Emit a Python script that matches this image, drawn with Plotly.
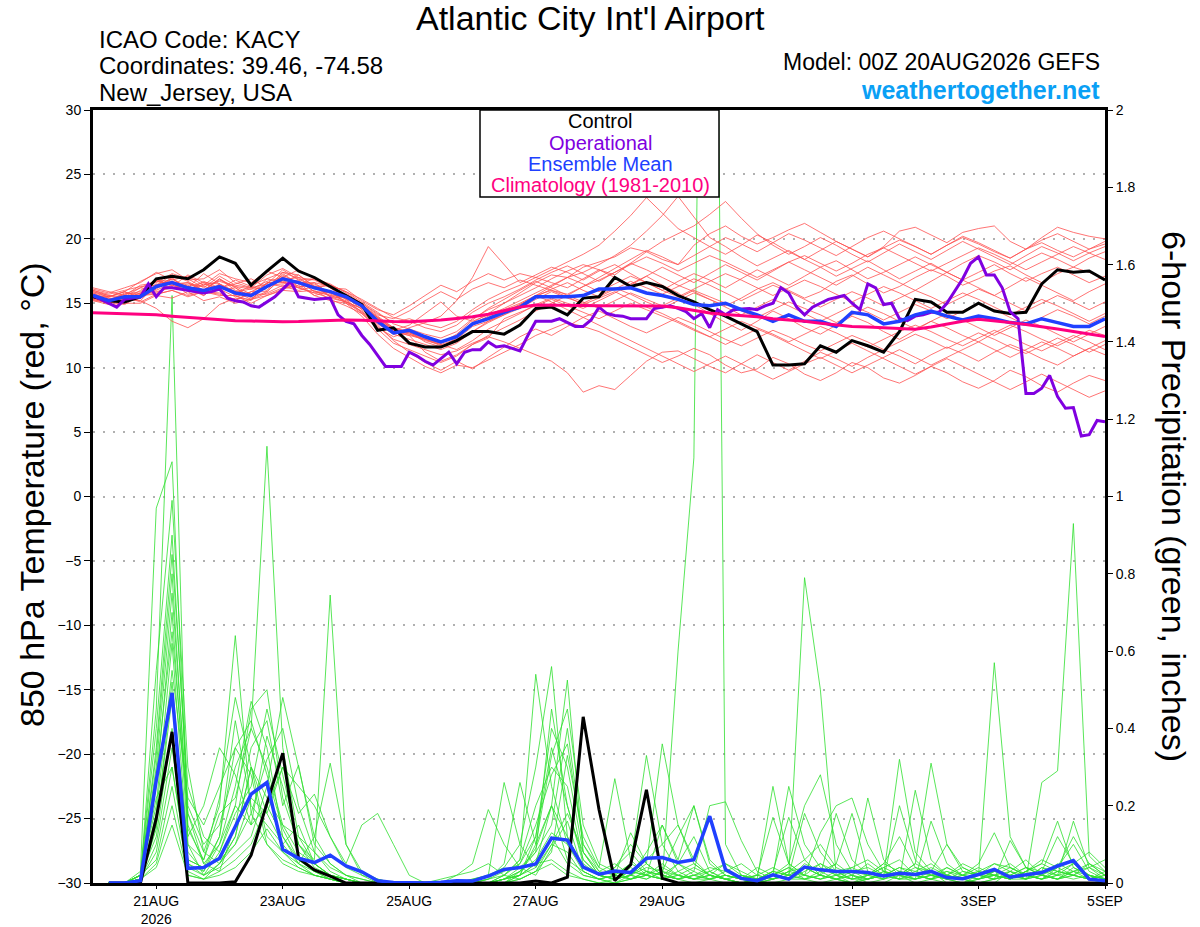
import pandas as pd
import plotly.graph_objects as go

# valid times of the 00Z 20AUG2026 GEFS run
times_6h = pd.date_range("2026-08-20 00:00", "2026-09-05 00:00", freq="6h")
times_3h = pd.date_range("2026-08-20 00:00", "2026-09-05 00:00", freq="3h")
precip_times = times_6h[1:]

# 850 hPa temperature (C), 6-hourly
control_temp = [
    15.5, 15.2, 15.1, 15.5, 16.9, 17.1, 16.9, 17.6, 18.6, 18.1, 16.4, 17.5, 18.5,
    17.5, 17.0, 16.3, 15.6, 14.9, 12.9, 13.1, 11.9, 11.6, 11.6, 12.1, 12.8, 12.8,
    12.6, 13.3, 14.6, 14.7, 14.1, 15.4, 15.5, 17.0, 16.3, 16.6, 16.3, 15.6, 15.1,
    14.5, 14.0, 13.4, 12.8, 10.2, 10.2, 10.3, 11.7, 11.2, 12.1, 11.7, 11.2, 12.8,
    15.3, 15.1, 14.3, 14.3, 15.0, 14.4, 14.2, 14.3, 16.5, 17.6, 17.4, 17.5, 16.8,
]
ens_mean_temp = [
    15.6, 15.2, 15.5, 15.5, 16.3, 16.6, 16.2, 16.0, 16.3, 15.8, 15.6, 16.3, 16.9,
    16.6, 16.2, 15.9, 15.5, 14.8, 13.6, 12.7, 12.9, 12.4, 12.0, 12.4, 13.4, 13.8,
    14.3, 14.7, 15.5, 15.5, 15.5, 15.6, 16.1, 16.1, 16.2, 15.8, 15.6, 15.3, 14.9,
    14.8, 15.0, 14.5, 14.1, 13.6, 14.1, 13.6, 13.6, 13.2, 14.3, 14.1, 13.4, 13.6,
    14.1, 14.4, 14.0, 13.7, 14.0, 13.8, 13.5, 13.4, 13.8, 13.5, 13.2, 13.2, 13.8,
]
climo_temp = [
    14.27, 14.24, 14.2, 14.15, 14.1, 14.0, 13.9, 13.8, 13.7, 13.65, 13.62, 13.58, 13.57,
    13.58, 13.62, 13.67, 13.7, 13.68, 13.62, 13.58, 13.57, 13.62, 13.7, 13.82, 13.95, 14.15,
    14.4, 14.7, 14.86, 14.86, 14.84, 14.82, 14.8, 14.8, 14.8, 14.8, 14.79, 14.65, 14.45,
    14.25, 14.12, 14.05, 13.95, 13.8, 13.72, 13.6, 13.45, 13.3, 13.2, 13.15, 13.1, 13.02,
    12.98, 13.15, 13.4, 13.6, 13.75, 13.65, 13.5, 13.35, 13.2, 13.0, 12.8, 12.6, 12.41,
]
# operational run is 3-hourly
oper_temp = [
    15.6, 15.3, 15.0, 14.7, 15.3, 15.4, 15.5, 16.5, 15.5, 16.2, 16.2, 16.1, 16.0,
    15.9, 15.8, 15.9, 16.1, 15.4, 15.2, 15.1, 14.8, 14.7, 15.1, 15.5, 16.1, 16.7,
    15.5, 15.4, 15.3, 15.35, 15.4, 14.1, 13.6, 13.4, 12.5, 11.8, 10.9, 10.1, 10.1,
    10.1, 11.2, 10.9, 10.5, 10.2, 10.7, 11.2, 10.3, 11.2, 11.4, 11.4, 12.0, 11.6,
    11.7, 11.5, 11.3, 12.5, 13.6, 13.6, 13.6, 13.8, 13.5, 13.2, 13.2, 13.7, 14.7,
    14.2, 14.05, 14.0, 13.8, 13.8, 13.8, 14.6, 14.7, 14.8, 14.6, 14.35, 13.8, 14.2,
    13.1, 14.5, 14.1, 14.5, 14.55, 14.6, 14.5, 14.8, 15.0, 16.2, 15.8, 14.7, 14.1,
    14.7, 15.0, 15.3, 15.45, 15.6, 15.0, 14.5, 16.5, 16.2, 14.9, 15.0, 13.8, 13.65,
    14.0, 14.1, 14.3, 14.3, 15.0, 15.9, 16.9, 18.1, 18.6, 17.2, 17.2, 16.2, 14.35,
    13.8, 8.0, 8.0, 8.4, 9.4, 7.75, 6.85, 6.9, 4.7, 4.8, 5.9, 5.8,
]

# 6-hour precipitation (inches), starting at 06Z 20AUG
control_precip = [
    0, 0, 0, 0.167, 0.391, 0, 0, 0,
    0.003, 0.072, 0.206, 0.336, 0.064, 0.034, 0.018, 0,
    0, 0, 0, 0, 0, 0, 0, 0,
    0, 0, 0, 0.005, 0, 0.015, 0.43, 0.19,
    0.006, 0.047, 0.241, 0.012, 0, 0, 0, 0,
    0, 0, 0, 0, 0, 0, 0, 0,
    0, 0, 0, 0, 0, 0, 0, 0,
    0, 0, 0, 0, 0, 0, 0, 0,
]
ens_mean_precip = [
    0, 0, 0.006, 0.266, 0.492, 0.038, 0.04, 0.064,
    0.146, 0.23, 0.26, 0.087, 0.064, 0.053, 0.072, 0.044,
    0.029, 0.006, 0.001, 0, 0, 0.002, 0.006, 0.005,
    0.018, 0.035, 0.04, 0.049, 0.116, 0.111, 0.041, 0.023,
    0.031, 0.027, 0.064, 0.066, 0.053, 0.06, 0.173, 0.035,
    0.012, 0.006, 0.021, 0.01, 0.041, 0.034, 0.03, 0.03,
    0.027, 0.018, 0.025, 0.022, 0.03, 0.014, 0.011, 0.022,
    0.035, 0.015, 0.021, 0.027, 0.044, 0.058, 0.01, 0.006,
]

# ensemble members, temperature
t_m01 = [15.9, 15.5, 15.9, 16.7, 17.3, 17.6, 16.8, 16.9, 17.6, 16.6, 16.2, 17.2, 17.7,
         17.0, 16.8, 16.2, 15.3, 14.3, 13.1, 12.4, 12.8, 12.0, 11.6, 12.3, 13.5, 14.2,
         15.0, 15.8, 16.6, 17.2, 17.0, 17.8, 18.2, 18.6, 19.3, 19.0, 18.4, 18.0, 19.5,
         20.4, 21.0, 20.2, 19.6, 20.1, 20.7, 21.2, 20.5, 19.8, 19.2, 18.6, 19.4, 20.6,
         20.9, 20.3, 19.7, 20.5, 20.8, 21.0, 19.8, 19.2, 20.1, 20.9, 20.5, 20.2, 20.0]
t_m02 = [15.2, 14.9, 15.0, 15.0, 15.6, 15.4, 15.9, 15.2, 15.5, 15.0, 15.3, 15.6, 16.1,
         16.4, 15.6, 15.2, 15.0, 14.0, 12.6, 11.5, 10.8, 10.1, 9.6, 10.2, 10.0, 10.6,
         11.2, 11.8, 12.5, 13.0, 13.5, 13.2, 12.8, 12.2, 11.6, 11.0, 10.4, 10.9, 11.5,
         11.0, 10.2, 9.6, 9.9, 10.8, 10.3, 9.5, 9.0, 9.6, 10.4, 10.0, 9.2, 8.8,
         9.4, 10.1, 9.6, 8.9, 8.4, 9.0, 9.8, 9.3, 8.6, 8.1, 8.8, 9.4, 9.0]
t_m03 = [16.0, 15.6, 15.3, 15.8, 16.9, 16.3, 17.2, 16.6, 16.1, 16.8, 16.3, 16.0, 17.3,
         16.5, 16.9, 16.4, 15.6, 15.0, 14.1, 13.8, 14.4, 15.2, 15.9, 15.3, 16.1, 16.6,
         16.2, 16.8, 16.4, 16.0, 15.7, 16.3, 16.8, 17.4, 18.1, 17.6, 17.0, 16.4, 15.9,
         15.3, 14.8, 15.4, 16.1, 16.6, 16.0, 15.4, 15.9, 16.7, 17.2, 16.5, 15.8, 16.3,
         17.0, 17.6, 17.1, 16.4, 16.9, 17.5, 17.9, 17.2, 16.6, 17.3, 17.8, 17.4, 16.9]
t_m04 = [15.5, 15.1, 15.3, 15.2, 14.6, 13.6, 13.1, 13.8, 14.9, 15.4, 15.3, 15.8, 16.4,
         16.2, 15.8, 15.4, 15.1, 14.6, 13.9, 13.1, 12.7, 12.2, 11.8, 11.4, 12.1, 13.0,
         13.6, 14.2, 14.9, 15.4, 15.0, 14.6, 15.2, 15.8, 16.5, 17.1, 16.4, 15.8, 14.9,
         14.2, 13.5, 12.9, 13.6, 14.4, 13.8, 13.1, 12.6, 13.3, 14.0, 13.5, 12.8, 12.2,
         12.9, 13.6, 13.1, 12.5, 12.0, 12.7, 13.3, 12.8, 12.2, 11.7, 12.3, 12.9, 12.5]
t_m05 = [15.8, 15.5, 15.9, 15.4, 16.1, 16.9, 16.2, 17.3, 16.5, 15.7, 16.4, 16.9, 16.6,
         17.2, 16.3, 15.6, 15.2, 14.3, 13.4, 12.6, 13.1, 13.5, 14.0, 15.2, 17.0, 19.4,
         18.0, 16.6, 17.2, 17.8, 17.4, 16.8, 17.5, 18.0, 17.3, 16.6, 16.0, 16.7, 17.3,
         16.8, 16.2, 16.9, 17.6, 17.0, 16.4, 17.1, 17.8, 18.3, 17.6, 16.9, 17.4, 18.0,
         18.6, 18.0, 17.4, 18.1, 18.7, 18.2, 17.6, 18.3, 18.9, 18.4, 17.8, 18.5, 19.0]
t_m06 = [15.5, 15.3, 15.7, 16.2, 16.0, 16.6, 15.7, 16.0, 16.9, 16.2, 15.4, 15.9, 17.0,
         16.2, 15.8, 15.9, 15.1, 14.2, 13.2, 12.2, 11.8, 11.4, 11.0, 11.3, 11.9, 12.4,
         12.0, 11.5, 11.0, 10.5, 9.6, 8.1, 8.6, 8.3, 9.4, 10.5, 11.2, 11.3, 10.7,
         10.1, 9.6, 10.3, 11.0, 10.4, 9.8, 10.5, 11.2, 10.7, 10.1, 10.8, 11.4, 10.9,
         10.3, 11.0, 11.6, 11.1, 10.5, 11.2, 11.8, 11.3, 10.7, 10.2, 10.9, 11.5, 11.0]
t_m07 = [16.1, 15.8, 16.2, 16.6, 17.4, 16.8, 17.1, 16.4, 17.3, 16.9, 16.6, 17.5, 17.0,
         17.6, 16.9, 16.5, 15.8, 15.0, 14.2, 13.5, 13.8, 13.4, 13.1, 13.6, 14.5, 15.3,
         15.9, 16.4, 17.0, 17.6, 18.2, 18.8, 19.5, 20.6, 21.8, 23.2, 22.0, 20.8, 20.1,
         19.4, 18.8, 19.5, 20.3, 19.7, 19.0, 18.4, 19.1, 19.8, 19.2, 18.6, 19.3, 19.9,
         19.4, 18.8, 19.5, 20.1, 19.6, 19.0, 18.5, 19.2, 19.7, 19.1, 18.6, 19.2, 19.6]
t_m08 = [15.2, 15.1, 14.9, 15.6, 15.8, 16.4, 16.6, 15.9, 15.8, 15.2, 15.9, 16.5, 16.3,
         16.0, 16.3, 15.5, 15.4, 14.7, 13.8, 13.0, 12.6, 12.2, 11.7, 12.0, 12.8, 13.5,
         14.1, 14.8, 15.6, 16.3, 17.0, 17.4, 18.0, 18.7, 19.5, 20.6, 21.8, 23.3, 21.7,
         20.1, 19.4, 18.6, 17.9, 18.5, 19.1, 18.4, 17.8, 17.1, 17.7, 18.3, 17.6, 16.9,
         17.5, 18.1, 17.4, 16.8, 17.4, 18.0, 17.3, 16.7, 17.3, 17.8, 17.2, 16.6, 17.1]
t_m09 = [15.9, 15.6, 15.5, 16.2, 16.8, 16.4, 16.0, 16.7, 16.2, 16.5, 16.9, 16.2, 17.4,
         16.9, 16.2, 16.4, 15.9, 15.1, 14.3, 13.4, 13.0, 12.6, 12.3, 12.8, 13.8, 14.5,
         15.0, 15.6, 16.2, 16.9, 17.5, 18.0, 17.6, 17.2, 18.1, 19.0, 19.8, 20.4, 21.0,
         21.9, 22.9, 21.6, 20.4, 19.5, 18.8, 19.4, 20.1, 19.5, 18.8, 18.2, 18.9, 19.6,
         19.0, 18.4, 19.1, 19.8, 19.2, 18.6, 18.0, 18.7, 19.4, 18.9, 18.3, 18.9, 19.4]
t_m10 = [15.4, 15.0, 15.6, 15.2, 16.4, 16.9, 16.1, 15.6, 16.5, 15.6, 15.2, 16.6, 16.7,
         16.2, 16.6, 15.7, 15.4, 14.9, 13.9, 12.9, 12.6, 12.1, 11.8, 12.2, 13.2, 13.6,
         14.1, 14.6, 15.3, 15.9, 15.4, 15.0, 15.6, 16.2, 15.7, 15.1, 14.6, 15.2, 15.8,
         15.3, 14.7, 14.1, 14.7, 15.3, 14.8, 14.2, 13.6, 14.2, 14.8, 14.3, 13.7, 14.3,
         14.9, 14.4, 13.8, 14.4, 15.0, 14.5, 13.9, 13.3, 13.9, 14.5, 14.0, 13.4, 14.0]
t_m11 = [15.7, 15.4, 15.2, 15.6, 15.7, 16.0, 15.5, 15.9, 15.7, 15.3, 15.7, 15.7, 16.2,
         16.6, 15.6, 15.9, 15.0, 14.4, 13.3, 12.1, 11.2, 10.4, 9.8, 10.5, 9.9, 10.8,
         11.6, 12.4, 13.0, 12.5, 13.2, 13.9, 14.4, 13.8, 13.2, 12.7, 13.3, 13.9, 13.4,
         12.8, 12.2, 11.7, 12.3, 12.9, 12.4, 11.8, 11.3, 11.9, 12.5, 12.0, 11.4, 12.0,
         12.6, 12.1, 11.5, 12.1, 12.7, 12.2, 11.6, 11.1, 11.7, 12.3, 11.8, 11.2, 11.8]
t_m12 = [16.2, 15.9, 15.6, 16.4, 16.6, 17.3, 16.9, 16.2, 17.1, 16.4, 16.2, 16.5, 17.6,
         16.8, 16.9, 16.2, 16.1, 15.2, 14.5, 14.1, 14.8, 15.6, 16.4, 15.9, 16.7, 17.3,
         16.8, 17.3, 17.0, 16.6, 16.2, 16.9, 17.6, 17.0, 16.4, 17.1, 17.8, 17.2, 16.6,
         17.3, 18.0, 17.4, 16.8, 17.5, 18.2, 17.6, 17.0, 16.4, 17.1, 17.8, 17.2, 16.6,
         16.0, 16.7, 17.4, 16.8, 16.2, 15.6, 16.3, 17.0, 16.4, 15.8, 15.2, 15.9, 16.5]
t_m13 = [15.3, 15.0, 15.4, 15.8, 16.5, 16.2, 16.5, 16.3, 16.0, 16.2, 15.5, 16.6, 16.6,
         16.8, 15.9, 15.6, 15.5, 14.5, 13.5, 12.6, 12.2, 11.8, 11.4, 11.9, 12.8, 13.6,
         14.2, 14.9, 15.6, 16.0, 15.5, 14.9, 15.4, 15.9, 15.3, 14.7, 14.2, 13.6, 13.0,
         12.4, 11.8, 12.4, 13.0, 12.5, 11.9, 11.3, 10.7, 11.3, 11.9, 11.3, 10.7, 10.1,
         9.5, 10.1, 10.7, 10.1, 9.5, 8.9, 8.3, 8.9, 9.5, 8.9, 8.3, 7.7, 8.2]
t_m14 = [15.6, 15.5, 15.9, 15.4, 16.2, 17.0, 16.0, 16.5, 16.1, 15.5, 15.9, 15.9, 17.1,
         16.3, 16.4, 15.5, 15.1, 14.6, 13.7, 12.9, 13.3, 14.2, 15.1, 14.0, 13.6, 14.1,
         14.6, 15.2, 15.8, 16.4, 17.0, 16.5, 15.9, 16.5, 17.1, 16.6, 16.0, 15.5, 16.1,
         16.7, 17.3, 16.8, 16.2, 15.6, 16.2, 16.8, 16.3, 15.7, 15.1, 15.7, 16.3, 15.8,
         15.2, 14.6, 15.2, 15.8, 15.3, 14.7, 14.1, 14.7, 15.3, 14.8, 14.2, 13.6, 14.2]
t_m15 = [15.4, 15.3, 15.1, 15.7, 15.9, 16.2, 16.4, 15.6, 16.5, 15.9, 15.3, 16.4, 16.5,
         16.7, 15.9, 16.0, 15.3, 14.8, 13.8, 12.8, 12.5, 11.2, 10.5, 11.0, 11.8, 12.3,
         13.8, 14.3, 14.8, 15.3, 14.8, 14.3, 13.8, 14.4, 15.0, 14.5, 14.0, 13.5, 12.9,
         12.4, 13.0, 13.6, 13.1, 12.6, 12.0, 12.6, 13.2, 12.7, 12.1, 11.6, 12.2, 12.8,
         13.3, 12.8, 12.2, 11.7, 12.3, 12.9, 12.4, 11.8, 11.3, 11.9, 12.5, 12.0, 11.4]
t_m16 = [15.7, 15.2, 15.7, 15.9, 16.7, 16.5, 16.0, 16.4, 16.7, 16.3, 16.1, 16.2, 17.2,
         16.5, 16.5, 15.8, 15.7, 14.9, 14.0, 13.1, 12.8, 12.4, 12.0, 12.5, 13.4, 14.0,
         14.5, 15.0, 15.6, 15.1, 14.5, 13.9, 13.3, 12.7, 12.1, 11.5, 10.9, 10.3, 9.7,
         10.3, 10.9, 10.3, 9.7, 9.1, 9.7, 10.3, 10.8, 10.2, 9.6, 10.2, 10.8, 11.4,
         10.8, 10.2, 10.8, 11.4, 12.0, 11.4, 10.8, 11.4, 12.0, 11.5, 10.9, 11.5, 12.1]
t_m17 = [16.0, 15.7, 16.0, 16.3, 16.4, 17.2, 16.7, 16.0, 16.9, 16.0, 15.7, 16.9, 17.4,
         17.2, 16.3, 16.4, 15.9, 15.3, 14.6, 13.9, 13.6, 13.1, 12.8, 13.3, 14.3, 15.0,
         15.5, 16.1, 16.8, 17.4, 17.9, 17.3, 16.7, 17.4, 18.0, 18.6, 18.1, 17.5, 18.1,
         18.7, 18.2, 17.6, 17.0, 17.6, 18.2, 18.7, 18.1, 17.5, 18.1, 18.8, 19.3, 18.7,
         18.1, 17.5, 18.1, 18.7, 19.3, 18.8, 18.2, 17.6, 18.2, 18.8, 19.4, 18.9, 18.4]
t_m18 = [15.3, 15.1, 15.5, 15.1, 15.7, 16.0, 15.6, 15.9, 15.6, 15.6, 15.0, 15.6, 16.0,
         15.9, 16.0, 15.3, 14.8, 14.2, 13.0, 11.9, 11.4, 10.9, 10.4, 10.9, 11.8, 12.5,
         13.1, 13.7, 14.4, 15.0, 15.6, 15.1, 14.6, 15.2, 15.8, 15.3, 14.8, 15.4, 16.0,
         15.5, 15.0, 14.4, 13.9, 14.5, 15.1, 14.6, 14.1, 13.5, 14.1, 14.7, 14.2, 13.6,
         13.0, 13.6, 14.2, 13.7, 13.1, 12.5, 13.1, 13.7, 13.2, 12.6, 12.0, 12.6, 13.2]
t_m19 = [15.5, 15.4, 15.3, 16.0, 16.7, 16.5, 16.6, 16.0, 16.8, 16.3, 15.7, 16.3, 16.8,
         17.0, 16.2, 15.8, 15.6, 14.7, 13.7, 12.8, 12.5, 12.2, 11.9, 12.6, 13.7, 14.6,
         15.3, 16.0, 16.7, 16.2, 15.6, 16.3, 17.0, 17.7, 18.4, 19.1, 18.6, 18.0, 18.7,
         19.4, 20.1, 19.6, 19.0, 19.7, 20.4, 19.9, 19.3, 18.7, 19.4, 20.1, 20.6, 20.0,
         19.4, 18.8, 19.5, 20.2, 19.7, 19.1, 18.5, 19.2, 19.9, 20.4, 19.8, 19.2, 19.8]
t_m20 = [15.8, 15.2, 15.8, 15.7, 16.8, 16.7, 16.3, 16.6, 16.5, 15.9, 16.1, 16.7, 17.0,
         16.6, 16.6, 16.3, 15.4, 14.8, 13.9, 13.0, 12.7, 12.3, 11.9, 12.4, 13.3, 13.9,
         14.4, 14.9, 15.5, 16.1, 16.6, 16.0, 15.5, 16.1, 16.7, 16.2, 15.7, 16.3, 16.9,
         16.4, 15.8, 15.2, 15.8, 16.4, 15.9, 15.3, 14.7, 15.3, 15.9, 15.4, 14.8, 15.4,
         16.0, 15.5, 14.9, 15.5, 16.1, 15.6, 15.0, 14.4, 15.0, 15.6, 15.1, 14.5, 15.1]

# ensemble members, 6-hour precipitation
p_m01 = [0, 0, 0.02, 0.45, 1.52, 0.10, 0.02, 0.05, 0.12, 0.30, 0.22, 0.15, 0.08, 0.05, 0.02, 0.01,
         0, 0, 0, 0, 0, 0, 0, 0, 0.01, 0.03, 0.05, 0.12, 0.35, 0.20, 0.05, 0.02,
         0.04, 0.08, 0.03, 0.01, 0.60, 1.10, 4.50, 0.10, 0.02, 0, 0, 0.01, 0.05, 0.03, 0.01, 0,
         0, 0, 0.02, 0.05, 0.03, 0, 0, 0.01, 0.02, 0.04, 0.02, 0.01, 0.03, 0.05, 0.02, 0]
p_m02 = [0, 0, 0.03, 0.97, 1.09, 0.15, 0.05, 0.10, 0.25, 0.47, 0.35, 0.12, 0.05, 0.02, 0.01, 0,
         0, 0, 0, 0, 0, 0, 0, 0, 0, 0.02, 0.06, 0.54, 0.25, 0.10, 0.03, 0.01,
         0.02, 0.05, 0.33, 0.10, 0.03, 0.01, 0.02, 0.01, 0, 0, 0.01, 0.02, 0.79, 0.50, 0.02, 0,
         0.01, 0.03, 0.02, 0, 0.01, 0.02, 0.01, 0, 0, 0.03, 0.06, 0.02, 0.01, 0.04, 0.02, 0.01]
p_m03 = [0, 0, 0.01, 0.55, 0.99, 0.30, 0.08, 0.20, 0.64, 0.18, 0.10, 0.05, 0.03, 0.02, 0.01, 0,
         0, 0, 0, 0, 0, 0, 0, 0.01, 0.02, 0.04, 0.10, 0.30, 0.56, 0.12, 0.04, 0.02,
         0.01, 0.02, 0.05, 0.36, 0.15, 0.05, 0.02, 0.01, 0, 0, 0.01, 0.03, 0.06, 0.10, 0.04, 0.02,
         0.05, 0.02, 0.32, 0.08, 0.03, 0.01, 0, 0.02, 0.05, 0.03, 0.01, 0.26, 0.29, 0.93, 0.07, 0.03]
p_m04 = [0, 0, 0.02, 0.40, 0.90, 0.20, 0.10, 0.15, 0.30, 0.40, 1.13, 0.35, 0.12, 0.05, 0.02, 0.01,
         0, 0, 0, 0, 0, 0, 0, 0, 0, 0, 0.03, 0.08, 0.15, 0.40, 0.10, 0.04,
         0.27, 0.06, 0.02, 0.01, 0.05, 0.12, 0.03, 0.01, 0, 0, 0.02, 0.04, 0.01, 0, 0.01, 0.02,
         0, 0.01, 0.03, 0.02, 0.01, 0, 0, 0, 0.01, 0.11, 0.04, 0.02, 0.05, 0.03, 0.01, 0]
p_m05 = [0, 0, 0.01, 0.35, 0.85, 0.25, 0.12, 0.08, 0.20, 0.45, 0.50, 0.22, 0.10, 0.06, 0.745, 0.10,
         0.03, 0.01, 0, 0, 0, 0, 0, 0, 0, 0.01, 0.02, 0.05, 0.20, 0.525, 0.08, 0.03,
         0.02, 0.13, 0.05, 0.02, 0.01, 0.03, 0.20, 0.21, 0.11, 0.03, 0.01, 0.02, 0.04, 0.02, 0.01, 0,
         0.02, 0.05, 0.03, 0.01, 0.02, 0.04, 0.02, 0.01, 0.02, 0.01, 0.03, 0.05, 0.16, 0.04, 0.02, 0.01]
p_m06 = [0, 0, 0.02, 0.30, 0.75, 0.18, 0.05, 0.03, 0.15, 0.35, 0.42, 0.20, 0.305, 0.10, 0.05, 0.02,
         0.01, 0, 0, 0, 0, 0, 0, 0, 0.01, 0.05, 0.26, 0.10, 0.33, 0.45, 0.15, 0.05,
         0.03, 0.01, 0.02, 0.05, 0.02, 0.01, 0.03, 0.05, 0.02, 0.01, 0.25, 0.05, 0.02, 0.13, 0.20, 0.22,
         0.10, 0.03, 0.01, 0.24, 0.06, 0.02, 0.01, 0.02, 0.01, 0.02, 0.04, 0.03, 0.12, 0.05, 0.02, 0]
p_m07 = [0, 0, 0.01, 0.25, 0.70, 0.12, 0.20, 0.35, 0.28, 0.15, 0.20, 0.30, 0.18, 0.23, 0.12, 0.05,
         0.15, 0.18, 0.10, 0.02, 0, 0, 0, 0, 0, 0, 0.01, 0.03, 0.10, 0.08, 0.02, 0.01,
         0, 0.02, 0.06, 0.10, 0.15, 0.06, 0.02, 0.01, 0, 0.01, 0.03, 0.17, 0.06, 0.02, 0.05, 0.18,
         0.03, 0.01, 0.02, 0.05, 0.31, 0.10, 0.03, 0.02, 0.57, 0.12, 0.04, 0.02, 0.01, 0.03, 0.05, 0.02]
p_m08 = [0, 0, 0.02, 0.20, 0.62, 0.08, 0.03, 0.12, 0.42, 0.20, 0.15, 0.10, 0.05, 0.12, 0.31, 0.10,
         0.02, 0, 0, 0, 0, 0, 0, 0, 0, 0.01, 0.02, 0.12, 0.40, 0.30, 0.08, 0.02,
         0.01, 0.03, 0.02, 0.15, 0.06, 0.20, 0.05, 0.02, 0.01, 0, 0.01, 0.02, 0.18, 0.08, 0.03, 0.01,
         0.22, 0.06, 0.02, 0.01, 0.16, 0.05, 0.02, 0.01, 0.03, 0.02, 0.01, 0.02, 0.04, 0.10, 0.03, 0.01]
p_m09 = [0, 0, 0.01, 0.18, 0.55, 0.22, 0.15, 0.25, 0.35, 0.28, 0.10, 0.06, 0.04, 0.02, 0.01, 0,
         0, 0, 0, 0, 0, 0.01, 0.02, 0.05, 0.19, 0.10, 0.04, 0.08, 0.45, 0.20, 0.06, 0.02,
         0.01, 0.02, 0.04, 0.03, 0.01, 0.02, 0.04, 0.03, 0.01, 0.02, 0.04, 0.02, 0.01, 0.03, 0.05, 0.02,
         0.01, 0.02, 0.04, 0.03, 0.05, 0.02, 0.01, 0.03, 0.05, 0.04, 0.02, 0.01, 0.02, 0.05, 0.08, 0.04]
p_m10 = [0, 0, 0.01, 0.15, 0.48, 0.10, 0.06, 0.18, 0.22, 0.40, 0.30, 0.15, 0.12, 0.08, 0.04, 0.02,
         0.01, 0, 0, 0, 0, 0, 0, 0.01, 0.02, 0.26, 0.10, 0.04, 0.12, 0.05, 0.02, 0.01,
         0, 0.01, 0.03, 0.02, 0.01, 0, 0.01, 0.02, 0.01, 0, 0.02, 0.25, 0.10, 0.04, 0.02, 0.01,
         0.02, 0.04, 0.06, 0.02, 0.01, 0.03, 0.02, 0.04, 0.02, 0.01, 0.03, 0.06, 0.04, 0.02, 0.04, 0.06]
p_m11 = [0, 0, 0.02, 0.12, 0.40, 0.05, 0.02, 0.08, 0.18, 0.25, 0.45, 0.28, 0.10, 0.05, 0.02, 0.01,
         0, 0, 0, 0, 0, 0, 0, 0, 0, 0.01, 0.03, 0.06, 0.13, 0.10, 0.04, 0.02,
         0.01, 0.04, 0.02, 0.01, 0.03, 0.05, 0.02, 0.01, 0, 0.01, 0.02, 0.01, 0.03, 0.05, 0.02, 0.01,
         0.01, 0.02, 0.01, 0.02, 0.04, 0.02, 0.01, 0, 0.01, 0.02, 0.04, 0.02, 0.01, 0.02, 0.01, 0.02]
p_m12 = [0, 0, 0.01, 0.10, 0.35, 0.06, 0.04, 0.06, 0.10, 0.18, 0.32, 0.40, 0.20, 0.08, 0.03, 0.01,
         0, 0, 0, 0, 0, 0, 0.02, 0.03, 0.05, 0.02, 0.01, 0.03, 0.08, 0.33, 0.12, 0.04,
         0.02, 0.01, 0.02, 0.04, 0.02, 0.01, 0.02, 0.05, 0.03, 0.01, 0.02, 0.04, 0.02, 0.01, 0.03, 0.04,
         0.02, 0.01, 0.03, 0.02, 0.01, 0.04, 0.02, 0.01, 0.03, 0.02, 0.01, 0.04, 0.03, 0.02, 0.01, 0.03]
p_m13 = [0, 0, 0.01, 0.08, 0.30, 0.04, 0.02, 0.04, 0.08, 0.12, 0.25, 0.48, 0.30, 0.12, 0.05, 0.02,
         0, 0, 0, 0, 0, 0, 0, 0, 0, 0, 0.02, 0.10, 0.20, 0.06, 0.03, 0.01,
         0.02, 0.05, 0.03, 0.02, 0.05, 0.03, 0.01, 0.02, 0.01, 0.02, 0.01, 0.03, 0.02, 0.01, 0.02, 0.03,
         0.04, 0.02, 0.01, 0.03, 0.02, 0.01, 0.02, 0.03, 0.02, 0.01, 0.03, 0.02, 0.01, 0.03, 0.04, 0.02]
p_m14 = [0, 0, 0.02, 0.06, 0.25, 0.03, 0.01, 0.05, 0.12, 0.30, 0.18, 0.10, 0.15, 0.05, 0.02, 0.01,
         0, 0, 0, 0, 0, 0, 0, 0, 0, 0.01, 0.02, 0.05, 0.06, 0.03, 0.01, 0,
         0.01, 0.02, 0.01, 0.03, 0.02, 0.01, 0.02, 0.01, 0.02, 0.01, 0.03, 0.02, 0.01, 0.02, 0.01, 0.02,
         0.01, 0.03, 0.02, 0.01, 0.02, 0.03, 0.01, 0.02, 0.01, 0.02, 0.01, 0.03, 0.02, 0.01, 0.02, 0.01]
p_m15 = [0, 0, 0.01, 0.05, 0.20, 0.02, 0.01, 0.03, 0.06, 0.10, 0.20, 0.12, 0.06, 0.03, 0.01, 0,
         0, 0, 0, 0, 0, 0, 0, 0, 0, 0, 0.01, 0.03, 0.05, 0.02, 0.01, 0,
         0, 0.01, 0.02, 0.01, 0.02, 0.01, 0.01, 0, 0, 0.01, 0.02, 0.01, 0.01, 0.02, 0.01, 0,
         0.01, 0.02, 0.01, 0.01, 0.02, 0.01, 0, 0.01, 0.02, 0.01, 0.01, 0.02, 0.01, 0.02, 0.01, 0]
p_m16 = [0, 0, 0.01, 0.04, 0.15, 0.02, 0.01, 0.02, 0.04, 0.08, 0.14, 0.08, 0.04, 0.02, 0.01, 0,
         0, 0, 0, 0, 0, 0, 0, 0, 0, 0.01, 0.04, 0.02, 0.09, 0.16, 0.03, 0.01,
         0.02, 0.01, 0.03, 0.02, 0.01, 0.02, 0.01, 0.03, 0.05, 0.02, 0.01, 0.03, 0.04, 0.02, 0.18, 0.06,
         0.02, 0.01, 0.20, 0.06, 0.02, 0.01, 0.03, 0.02, 0.01, 0.03, 0.02, 0.01, 0.02, 0.16, 0.04, 0.01]
p_m17 = [0, 0, 0.02, 0.22, 0.30, 0.05, 0.03, 0.10, 0.20, 0.15, 0.38, 0.25, 0.10, 0.04, 0.02, 0.01,
         0, 0, 0, 0, 0, 0, 0, 0, 0.01, 0.02, 0.05, 0.15, 0.28, 0.36, 0.10, 0.03,
         0.05, 0.02, 0.08, 0.15, 0.05, 0.02, 0.01, 0.02, 0.01, 0.04, 0.02, 0.01, 0.02, 0.05, 0.03, 0.01,
         0.02, 0.05, 0.12, 0.04, 0.02, 0.01, 0.02, 0.05, 0.13, 0.04, 0.02, 0.01, 0.03, 0.02, 0.05, 0.03]
p_m18 = [0, 0, 0.01, 0.28, 0.65, 0.18, 0.08, 0.05, 0.10, 0.22, 0.18, 0.30, 0.25, 0.20, 0.12, 0.04,
         0.02, 0.01, 0, 0, 0, 0, 0, 0, 0, 0, 0.02, 0.04, 0.10, 0.18, 0.08, 0.02,
         0.01, 0.02, 0.01, 0.03, 0.12, 0.20, 0.06, 0.02, 0.01, 0.02, 0.17, 0.05, 0.02, 0.01, 0.02, 0.04,
         0.06, 0.03, 0.02, 0.04, 0.03, 0.10, 0.04, 0.02, 0.03, 0.05, 0.02, 0.01, 0.04, 0.12, 0.05, 0.02]
p_m19 = [0, 0, 0.02, 0.33, 0.80, 0.14, 0.06, 0.22, 0.48, 0.30, 0.12, 0.08, 0.05, 0.03, 0.02, 0.01,
         0, 0, 0, 0, 0, 0, 0, 0, 0, 0.01, 0.03, 0.09, 0.20, 0.12, 0.04, 0.02,
         0.01, 0.03, 0.02, 0.01, 0.02, 0.04, 0.02, 0.01, 0.02, 0.01, 0.02, 0.05, 0.20, 0.28, 0.10, 0.03,
         0.01, 0.02, 0.04, 0.02, 0.01, 0.02, 0.05, 0.03, 0.02, 0.01, 0.03, 0.05, 0.03, 0.02, 0.01, 0.02]
p_m20 = [0, 0, 0.01, 0.14, 0.52, 0.06, 0.04, 0.12, 0.35, 0.42, 0.28, 0.14, 0.06, 0.03, 0.01, 0,
         0, 0, 0, 0, 0, 0, 0, 0, 0, 0.02, 0.06, 0.20, 0.30, 0.25, 0.06, 0.02,
         0.04, 0.10, 0.05, 0.02, 0.01, 0.02, 0.03, 0.01, 0, 0.01, 0.03, 0.02, 0.04, 0.02, 0.01, 0.03,
         0.02, 0.04, 0.02, 0.01, 0.03, 0.02, 0.04, 0.02, 0.02, 0.03, 0.01, 0.04, 0.02, 0.03, 0.02, 0.01]

temp_members = [t_m01, t_m02, t_m03, t_m04, t_m05, t_m06, t_m07, t_m08, t_m09, t_m10,
                t_m11, t_m12, t_m13, t_m14, t_m15, t_m16, t_m17, t_m18, t_m19, t_m20]
precip_members = [p_m01, p_m02, p_m03, p_m04, p_m05, p_m06, p_m07, p_m08, p_m09, p_m10,
                  p_m11, p_m12, p_m13, p_m14, p_m15, p_m16, p_m17, p_m18, p_m19, p_m20]

tick_dates = ["2026-08-21", "2026-08-23", "2026-08-25", "2026-08-27",
              "2026-08-29", "2026-09-01", "2026-09-03", "2026-09-05"]
tick_text = ["21AUG<br>2026", "23AUG", "25AUG", "27AUG", "29AUG", "1SEP", "3SEP", "5SEP"]

legend_items = ["Control", "Operational", "Ensemble Mean", "Climatology (1981-2010)"]

FONT = "Liberation Sans, Arial, sans-serif"
RED = "#ff5050"
GREEN = "#2ee02e"
BLACK = "#000000"
PURPLE = "#8000e0"
BLUE = "#2040ff"
PINK = "#ff0080"

# plot area in pixels, used to place the free text
L, R, T, B = 93, 1105, 110, 883


def px(x):
    return (x - L) / (R - L)


def py(y):
    return (B - y) / (B - T)


fig = go.Figure()

# precipitation on the base (right) axis, drawn first so temperature sits on top
for m in precip_members:
    fig.add_trace(go.Scatter(x=precip_times, y=m, mode="lines", yaxis="y",
                             line=dict(color=GREEN, width=0.8), hoverinfo="skip"))
fig.add_trace(go.Scatter(x=precip_times, y=control_precip, mode="lines", yaxis="y",
                         line=dict(color=BLACK, width=3)))
fig.add_trace(go.Scatter(x=precip_times, y=ens_mean_precip, mode="lines", yaxis="y",
                         line=dict(color=BLUE, width=3.5)))

# temperature on the overlaying (left) axis
for m in temp_members:
    fig.add_trace(go.Scatter(x=times_6h, y=m, mode="lines", yaxis="y2",
                             line=dict(color=RED, width=0.8), hoverinfo="skip"))
fig.add_trace(go.Scatter(x=times_6h, y=control_temp, mode="lines", yaxis="y2",
                         line=dict(color=BLACK, width=3)))
fig.add_trace(go.Scatter(x=times_3h, y=oper_temp, mode="lines", yaxis="y2",
                         line=dict(color=PURPLE, width=3)))
fig.add_trace(go.Scatter(x=times_6h, y=ens_mean_temp, mode="lines", yaxis="y2",
                         line=dict(color=BLUE, width=3.5)))
fig.add_trace(go.Scatter(x=times_6h, y=climo_temp, mode="lines", yaxis="y2",
                         line=dict(color=PINK, width=3)))

axis_font = dict(family=FONT, size=14, color="black")

fig.update_layout(
    width=1200,
    height=927,
    showlegend=False,
    paper_bgcolor="white",
    plot_bgcolor="white",
    margin=dict(l=L, r=1200 - R, t=T, b=927 - B, autoexpand=False),
    font=dict(family=FONT, color="black"),
    xaxis=dict(
        range=[times_6h[0], times_6h[-1]],
        tickvals=tick_dates,
        ticktext=tick_text,
        tickfont=dict(family=FONT, size=14, color="black"),
        ticks="outside", ticklen=3, tickcolor="black",
        showline=True, linecolor="black", linewidth=2.5, mirror=True,
        showgrid=False, zeroline=False, automargin=False,
    ),
    yaxis=dict(
        range=[0, 2], dtick=0.2, side="right",
        tickfont=axis_font, ticks="outside", ticklen=5, tickcolor="black",
        showline=True, linecolor="black", linewidth=3,
        showgrid=False, zeroline=False, automargin=False,
    ),
    yaxis2=dict(
        range=[-30, 30], dtick=5, side="left", overlaying="y",
        tickfont=axis_font, ticks="outside", ticklen=6, tickcolor="black",
        showline=True, linecolor="black", linewidth=3,
        showgrid=True, gridcolor="#b0b0b0", griddash="2px,8px", gridwidth=1.5,
        zeroline=False, automargin=False,
    ),
)

# legend box drawn by hand: coloured text only, no line samples
fig.add_shape(type="rect", xref="paper", yref="paper",
              x0=px(480), x1=px(719), y0=py(197), y1=py(110),
              line=dict(color="black", width=1.5), fillcolor="white", layer="above")
legend_colors = [BLACK, PURPLE, BLUE, PINK]
for i, (txt, col) in enumerate(zip(legend_items, legend_colors)):
    fig.add_annotation(text=txt, xref="paper", yref="paper",
                       x=px(600), y=py(121 + 21.5 * i), showarrow=False,
                       xanchor="center", yanchor="middle",
                       font=dict(family=FONT, size=20, color=col))

# header texts
headers = [
    ("Atlantic City Int'l Airport", 590, 18, "center", 34, "black", False),
    ("ICAO Code: KACY", 97, 40, "left", 24, "black", False),
    ("Coordinates: 39.46, -74.58", 97, 66, "left", 24, "black", False),
    ("New_Jersey, USA", 97, 93, "left", 24, "black", False),
    ("Model: 00Z 20AUG2026 GEFS", 1102, 62, "right", 23, "black", False),
    ("weathertogether.net", 1102, 90, "right", 25, "#0aa0f5", True),
]
for txt, x, y, anchor, size, col, bold in headers:
    fig.add_annotation(text=f"<b>{txt}</b>" if bold else txt,
                       xref="paper", yref="paper", x=px(x), y=py(y),
                       xanchor=anchor, yanchor="middle", showarrow=False,
                       font=dict(family=FONT, size=size, color=col))

# axis titles
fig.add_annotation(text="850 hPa Temperature (red, °C)", xref="paper", yref="paper",
                   x=px(32), y=py(495), textangle=-90, showarrow=False,
                   xanchor="center", yanchor="middle",
                   font=dict(family=FONT, size=34, color="black"))
fig.add_annotation(text="6-hour Precipitation (green, inches)", xref="paper", yref="paper",
                   x=px(1174), y=py(496), textangle=90, showarrow=False,
                   xanchor="center", yanchor="middle",
                   font=dict(family=FONT, size=34, color="black"))

# the page body has a default 8px margin; drop it so the figure sits at (0, 0)
fig.write_html("out.html", config={"displayModeBar": False},
               post_script="document.body.style.margin = '0';")
